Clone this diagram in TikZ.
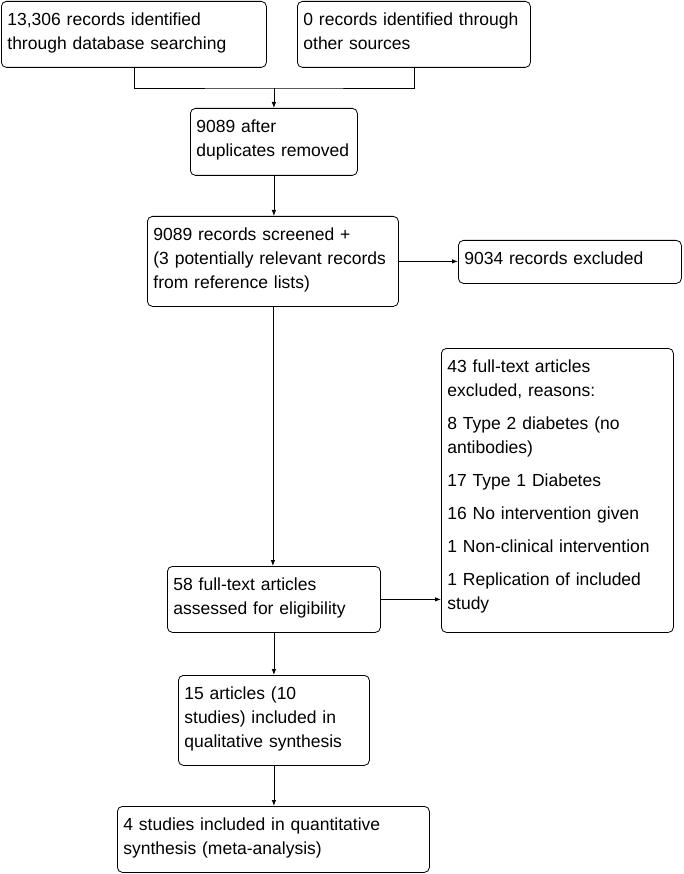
\documentclass[tikz,border=0pt]{standalone}
\usepackage{fontspec}
\setmainfont{Liberation Sans}
\usetikzlibrary{arrows.meta, positioning}

\begin{document}
\begin{tikzpicture}[
      x=1pt, y=-1pt,
      box/.style={rectangle, rounded corners=5pt, draw=black, line width=0.8pt,
                  anchor=north west, align=left, inner xsep=6pt, inner ysep=11pt,
                  text height=13pt, font=\fontsize{17.5}{24}\selectfont},
      arrow/.style={-{Latex[length=6pt, width=4.5pt]}, line width=0.8pt},
      link/.style={line width=0.8pt}
    ]
    \useasboundingbox (0,0) rectangle (683,874);

    % Identification
    \node[box, text width=253pt, text depth=31pt] (db) at (1,1) {13,306 records identified\\through database searching};
    \node[box, text width=221pt, text depth=31pt] (other) at (297,1) {0 records identified through\\other sources};

    % Screening
    \node[box, text width=155pt, text depth=32pt] (dup) at (190,108) {9089 after\\duplicates removed};
    \node[box, text width=239pt, text depth=55pt] (screen) at (147,216) {9089 records screened +\\(3 potentially relevant records\\from reference lists)};
    \node[box, text width=211pt, text depth=8pt] (excl) at (458,240) {9034 records excluded};

    % Eligibility
    \node[box, text width=220pt, text depth=249pt] (why) at (441,348) {43 full-text articles\\excluded, reasons:\\[9pt]8 Type 2 diabetes (no\\antibodies)\\[9pt]17 Type 1 Diabetes\\[9pt]16 No intervention given\\[9pt]1 Non-clinical intervention\\[9pt]1 Replication of included\\study};
    \node[box, text width=201pt, text depth=31pt] (full) at (167,566) {58 full-text articles\\assessed for eligibility};

    % Included
    \node[box, text width=179pt, text depth=55pt] (qual) at (178,675) {15 articles (10\\studies) included in\\qualitative synthesis};
    \node[box, text width=300pt, text depth=31pt] (quant) at (117,806) {4 studies included in quantitative\\synthesis (meta-analysis)};

    % Connectors
    \coordinate[above=20pt of dup.north] (join);
    \draw[link] (db.south) |- (join) -| (other.south);
    \draw[arrow] (join) -- (dup.north);
    \draw[arrow] (dup.south) -- (dup.south |- screen.north);
    \draw[arrow] (screen.east) -- (screen.east -| excl.west);
    \draw[arrow] (screen.south) -- (screen.south |- full.north);
    \draw[arrow] (full.east) -- (full.east -| why.west);
    \draw[arrow] (full.south) -- (full.south |- qual.north);
    \draw[arrow] (qual.south) -- (qual.south |- quant.north);

  \end{tikzpicture}
\end{document}
